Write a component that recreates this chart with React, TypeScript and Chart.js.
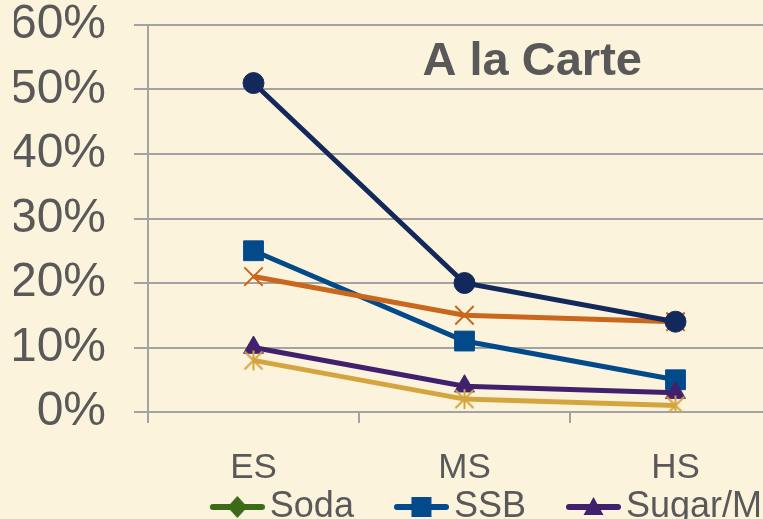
import React, { useEffect, useRef } from 'react';
import { Chart, registerables } from 'chart.js';

Chart.register(...registerables);

// ---- data ----
const categories = ['ES', 'MS', 'HS'];
const seriesNames = ['Soda', 'SSB', 'Sugar/Milk', 'Sports Drinks', 'Juice Drinks', 'Whole Milk'];
const soda: (number | null)[] = [null, null, null];
const ssb = [25, 11, 5];
const sugarMilk = [10, 4, 3];
const sportsDrinks = [21, 15, 14];
const juiceDrinks = [8, 2, 1];
const wholeMilk = [51, 20, 14];
const yMin = 0;
const yMax = 60;
const yStep = 10;
const chartTitle = 'A la Carte';

// ---- styles ----
const BG = '#FCF3DD';
const TEXT = '#595959';
const GRID = '#A3A3A3';
const FONT = '"Liberation Sans", Arial, sans-serif';
const COLORS = ['#3C6B17', '#034A8A', '#41216E', '#C9671D', '#D4A53F', '#14295B'];

function makeCanvas(w: number, h: number) {
  const c = document.createElement('canvas');
  c.width = w;
  c.height = h;
  return c;
}

function drawMarker(ctx: CanvasRenderingContext2D, kind: string, color: string, cx: number, cy: number) {
  ctx.save();
  ctx.fillStyle = color;
  ctx.strokeStyle = color;
  if (kind === 'diamond') {
    ctx.beginPath();
    ctx.moveTo(cx, cy - 11);
    ctx.lineTo(cx + 10, cy);
    ctx.lineTo(cx, cy + 11);
    ctx.lineTo(cx - 10, cy);
    ctx.closePath();
    ctx.fill();
  } else if (kind === 'square') {
    ctx.fillRect(cx - 10, cy - 10, 20, 20);
  } else if (kind === 'triangle') {
    ctx.beginPath();
    ctx.moveTo(cx, cy - 10);
    ctx.lineTo(cx + 10, cy + 8);
    ctx.lineTo(cx - 10, cy + 8);
    ctx.closePath();
    ctx.fill();
  } else if (kind === 'x') {
    ctx.lineWidth = 2;
    ctx.beginPath();
    ctx.moveTo(cx - 9, cy - 9);
    ctx.lineTo(cx + 9, cy + 9);
    ctx.moveTo(cx + 9, cy - 9);
    ctx.lineTo(cx - 9, cy + 9);
    ctx.stroke();
  } else if (kind === 'asterisk') {
    ctx.lineWidth = 2;
    ctx.beginPath();
    ctx.moveTo(cx - 9, cy - 9);
    ctx.lineTo(cx + 9, cy + 9);
    ctx.moveTo(cx + 9, cy - 9);
    ctx.lineTo(cx - 9, cy + 9);
    ctx.moveTo(cx, cy - 10);
    ctx.lineTo(cx, cy + 10);
    ctx.stroke();
  } else if (kind === 'circle') {
    ctx.beginPath();
    ctx.arc(cx, cy, 10, 0, Math.PI * 2);
    ctx.fill();
  }
  ctx.restore();
}

function asteriskImage(color: string) {
  const c = makeCanvas(22, 22);
  drawMarker(c.getContext('2d')!, 'asterisk', color, 11, 11);
  return c;
}

function legendSymbol(kind: string, color: string) {
  // image centred on the legend box; line drawn on its right part
  const c = makeCanvas(108, 26);
  const ctx = c.getContext('2d')!;
  ctx.strokeStyle = color;
  ctx.lineWidth = 6;
  ctx.lineCap = 'round';
  ctx.beginPath();
  ctx.moveTo(56, 13);
  ctx.lineTo(105, 13);
  ctx.stroke();
  drawMarker(ctx, kind, color, 80.5, 13);
  return c;
}

const markerKinds = ['diamond', 'square', 'triangle', 'x', 'asterisk', 'circle'];

export default function App() {
  const ref = useRef<HTMLCanvasElement | null>(null);

  useEffect(() => {
    if (!ref.current) return;
    const seriesData = [soda, ssb, sugarMilk, sportsDrinks, juiceDrinks, wholeMilk];
    const pointStyles: any[] = ['rectRot', 'rect', 'triangle', 'crossRot', asteriskImage(COLORS[4]), 'circle'];
    const pointRadii = [10, 14, 11.5, 13, 11, 10.5];
    const legendImgs = markerKinds.map((k, i) => legendSymbol(k, COLORS[i]));

    const titlePlugin = {
      id: 'innerTitle',
      afterDraw(chart: any) {
        const { ctx, chartArea } = chart;
        ctx.save();
        ctx.font = `bold 47px ${FONT}`;
        ctx.fillStyle = TEXT;
        ctx.textAlign = 'center';
        ctx.textBaseline = 'middle';
        ctx.fillText(chartTitle, chartArea.left + (chartArea.right - chartArea.left) * 0.607, chartArea.top + 37);
        ctx.restore();
      },
    };

    const chart = new Chart(ref.current, {
      type: 'line',
      data: {
        labels: categories,
        datasets: seriesData.map((d, i) => ({
          label: seriesNames[i],
          data: d,
          borderColor: COLORS[i],
          backgroundColor: COLORS[i],
          borderWidth: 5,
          pointStyle: pointStyles[i],
          pointRadius: pointRadii[i],
          pointBorderWidth: i === 3 ? 2 : 1,
          pointBackgroundColor: COLORS[i],
          pointBorderColor: COLORS[i],
          tension: 0,
          order: 6 - i,
          spanGaps: false,
        })),
      },
      options: {
        animation: false,
        responsive: false,
        maintainAspectRatio: false,
        layout: { padding: { top: 0, left: 14, right: 0, bottom: 0 } },
        plugins: {
          tooltip: { enabled: false },
          title: { display: false },
          legend: {
            display: true,
            position: 'bottom',
            align: 'end',
            labels: {
              usePointStyle: true,
              pointStyleWidth: 82,
              padding: 0,
              color: TEXT,
              font: { size: 36, family: FONT },
              generateLabels: () =>
                seriesNames.map((name, i) => ({
                  text: name,
                  fillStyle: COLORS[i],
                  strokeStyle: COLORS[i],
                  lineWidth: 0,
                  hidden: false,
                  pointStyle: legendImgs[i],
                  rotation: 0,
                  datasetIndex: i,
                  fontColor: TEXT,
                })),
            },
          },
        },
        scales: {
          x: {
            type: 'category',
            offset: true,
            grid: {
              display: true,
              offset: true,
              drawOnChartArea: false,
              drawTicks: true,
              tickLength: 11,
              color: GRID,
              lineWidth: 2,
            },
            border: { display: true, color: GRID, width: 2 },
            ticks: {
              color: TEXT,
              padding: 28,
              font: { size: 35, family: FONT, lineHeight: 1 },
              maxRotation: 0,
            },
            afterFit: (s: any) => {
              s.height = 77;
            },
          },
          y: {
            type: 'linear',
            min: yMin,
            max: yMax,
            grid: {
              color: GRID,
              lineWidth: 2,
              drawTicks: true,
              tickLength: 14,
            },
            border: { display: true, color: GRID, width: 2 },
            ticks: {
              stepSize: yStep,
              color: TEXT,
              padding: 28,
              font: { size: 48, family: FONT, lineHeight: 1 },
              callback: (v: any) => `${v}%`,
            },
            afterFit: (s: any) => {
              s.width = 134;
            },
          },
          y2: {
            type: 'linear',
            position: 'right',
            display: true,
            grid: { display: false, drawTicks: false },
            border: { display: false },
            ticks: { display: false },
            afterFit: (s: any) => {
              s.width = 15;
            },
          },
        },
      },
      plugins: [titlePlugin],
    } as any);

    return () => chart.destroy();
  }, []);

  return (
    <div
      style={{
        position: 'fixed',
        left: 0,
        top: 0,
        width: 763,
        height: 519,
        overflow: 'hidden',
        background: BG,
      }}
    >
      <canvas ref={ref} width={796} height={634} style={{ position: 'absolute', left: 0, top: -27, width: 796, height: 634 }} />
    </div>
  );
}
